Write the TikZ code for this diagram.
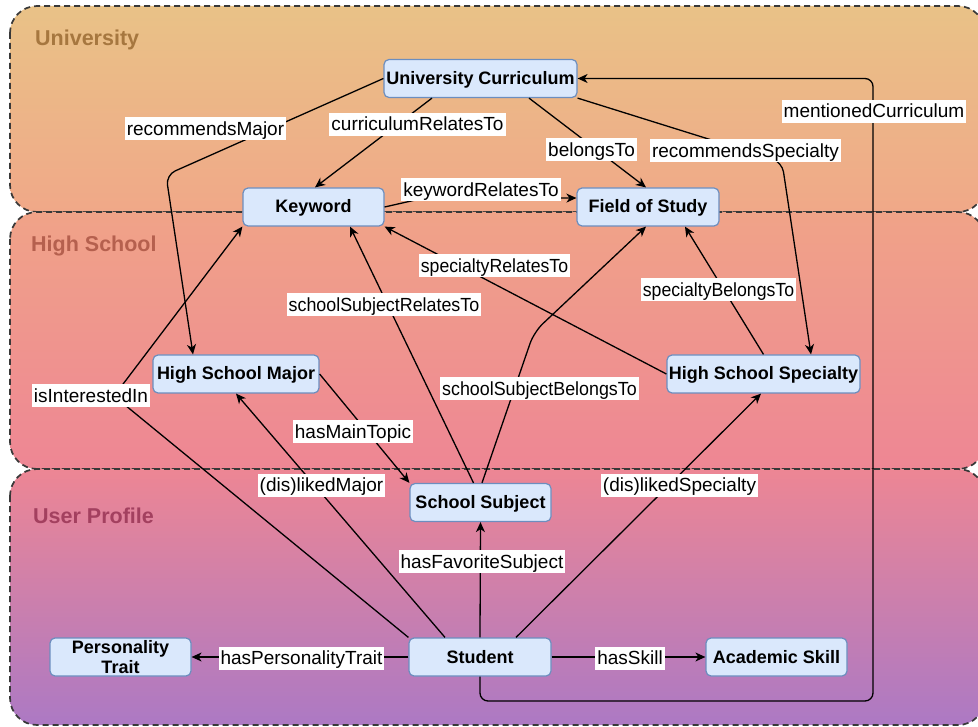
\documentclass[tikz,border=0pt]{standalone}
\usepackage{fontspec}
\setmainfont{Liberation Sans}
\usetikzlibrary{arrows.meta,calc}
\definecolor{nodefill}{HTML}{DAE8FC}
\definecolor{nodedraw}{HTML}{6C8EBF}
\definecolor{contdraw}{HTML}{383838}
\definecolor{uniTop}{HTML}{E9C287}
\definecolor{uniBot}{HTML}{F0A888}
\definecolor{hsTop}{HTML}{F0A388}
\definecolor{hsBot}{HTML}{EE8694}
\definecolor{upTop}{HTML}{ED8694}
\definecolor{upBot}{HTML}{AC79C4}
\definecolor{uniLbl}{HTML}{A6773F}
\definecolor{hsLbl}{HTML}{B5604E}
\definecolor{upLbl}{HTML}{A3405F}
\begin{document}
\begin{tikzpicture}[x=1pt,y=-1pt,
  ent/.style={draw=nodedraw, fill=nodefill, line width=1.2pt, rounded corners=5pt,
    font=\fontsize{18}{20}\selectfont\bfseries, minimum height=38pt, inner sep=0pt, align=center},
  oneline/.style={text height=14pt, text depth=2pt},
  lbl/.style={fill=white, inner xsep=2pt, inner ysep=2pt, font=\fontsize{19}{22}\selectfont,
    text height=16pt, text depth=3pt},
  narrow/.style={transform shape, xscale=#1},
  rel/.style={draw=black, line width=1.3pt, -{Stealth[length=10pt,width=9pt,inset=3pt]}},
  cont/.style={draw=contdraw, line width=1.7pt, dash pattern=on 6pt off 4pt, rounded corners=27pt},
  clabel/.style={font=\fontsize{21.5}{24}\selectfont\bfseries, anchor=west, inner sep=0pt}
]
\useasboundingbox (0,0) rectangle (978,727);
\clip (0,0) rectangle (978,727);

% containers
\shade[top color=uniTop, bottom color=uniBot, rounded corners=27pt] (10,6) rectangle (985,212);
\draw[cont] (10,6) rectangle (985,212);
\shade[top color=hsTop, bottom color=hsBot, rounded corners=27pt] (10,212) rectangle (985,469);
\draw[cont] (10,212) rectangle (985,469);
\shade[top color=upTop, bottom color=upBot, rounded corners=27pt] (10,469) rectangle (985,725);
\draw[cont] (10,469) rectangle (985,725);

\node[clabel, text=uniLbl] (cUni) at (35,40) {University};
\node[clabel, text=hsLbl] (cHS) at (31,246) {High School};
\node[clabel, text=upLbl] (cUP) at (33,516) {User Profile};

% entities
\node[ent, oneline, minimum width=193pt] (uc) at (480.5,78.5) {University Curriculum};
\node[ent, oneline, minimum width=141pt] (kw) at (313.5,207) {Keyword};
\node[ent, oneline, minimum width=142pt] (fos) at (648,207) {Field of Study};
\node[ent, oneline, minimum width=166pt] (hsm) at (236,374) {High School Major};
\node[ent, oneline, minimum width=193pt] (hss) at (763.5,374) {High School Specialty};
\node[ent, oneline, minimum width=141pt] (ss) at (480.5,502.5) {School Subject};
\node[ent, oneline, minimum width=142pt] (st) at (480,657) {Student};
\node[ent, minimum width=141pt] (pt) at (120.5,657) {Personality\\Trait};
\node[ent, oneline, minimum width=141pt] (as) at (776.5,657) {Academic Skill};

% relations
\draw[rel, rounded corners=10pt] (uc.west) -- (166,175) -- ([xshift=-43pt]hsm.north);
\draw[rel] ([xshift=-48.5pt]uc.south) -- ([xshift=1.5pt]kw.north);
\draw[rel] ([xshift=48.5pt]uc.south) -- ([xshift=-2pt]fos.north);
\draw[rel, rounded corners=10pt] (uc.south east) -- (782,162) -- ([xshift=47.5pt]hss.north);
\draw[rel] (kw.east) -- (420,199) -- ([yshift=9pt]fos.west);
\draw[rel] (st.north west) -- (114,396) -- (kw.south west);
\draw[rel] ([xshift=-35pt]st.north) -- (hsm.south);
\draw[rel] (hsm.east) -- (ss.north west);
\draw[rel] ([xshift=-7pt]ss.north) -- ([xshift=36.5pt]kw.south);
\draw[rel, rounded corners=12pt] ([xshift=1.5pt]ss.north) -- (534,332) -- ([xshift=-2pt]fos.south);
\draw[rel] (hss.west) -- (kw.south east);
\draw[rel] (hss.north) -- ([xshift=37pt]fos.south);
\draw[rel] ([xshift=36pt]st.north) -- ([xshift=-2.5pt]hss.south);
\draw[rel] (st.north) -- (ss.south);
\draw[rel] (st.west) -- (pt.east);
\draw[rel] (st.east) -- (as.west);
\draw[rel, rounded corners=8pt] (st.south) |- (873,701) -- (873,78.5) -- (uc.east);

% relation labels
\node[lbl] (lRM) at (205.5,129) {recommendsMajor};
\node[lbl] (lCR) at (417.5,124.5) {curriculumRelatesTo};
\node[lbl] (lBT) at (591.5,150) {belongsTo};
\node[lbl] (lRS) at (745.5,151) {recommendsSpecialty};
\node[lbl] (lMC) at (874,111.5) {mentionedCurriculum};
\node[lbl] (lKR) at (481,190) {keywordRelatesTo};
\node[lbl] (lII) at (91,396) {isInterestedIn};
\node[lbl, narrow=0.94] (lSR) at (384,305) {schoolSubjectRelatesTo};
\node[lbl, narrow=0.93] (lSpR) at (494.5,266) {specialtyRelatesTo};
\node[lbl, narrow=0.93] (lSpB) at (718.5,290) {specialtyBelongsTo};
\node[lbl, narrow=0.94] (lSB) at (539.5,389) {schoolSubjectBelongsTo};
\node[lbl] (lMT) at (353,432) {hasMainTopic};
\node[lbl] (lLM) at (321.5,485) {(dis)likedMajor};
\node[lbl] (lLS) at (679.5,485) {(dis)likedSpecialty};
\node[lbl] (lFS) at (482,561.5) {hasFavoriteSubject};
\node[lbl] (lPT) at (301.5,658) {hasPersonalityTrait};
\node[lbl] (lSk) at (630,658) {hasSkill};
\end{tikzpicture}
\end{document}
